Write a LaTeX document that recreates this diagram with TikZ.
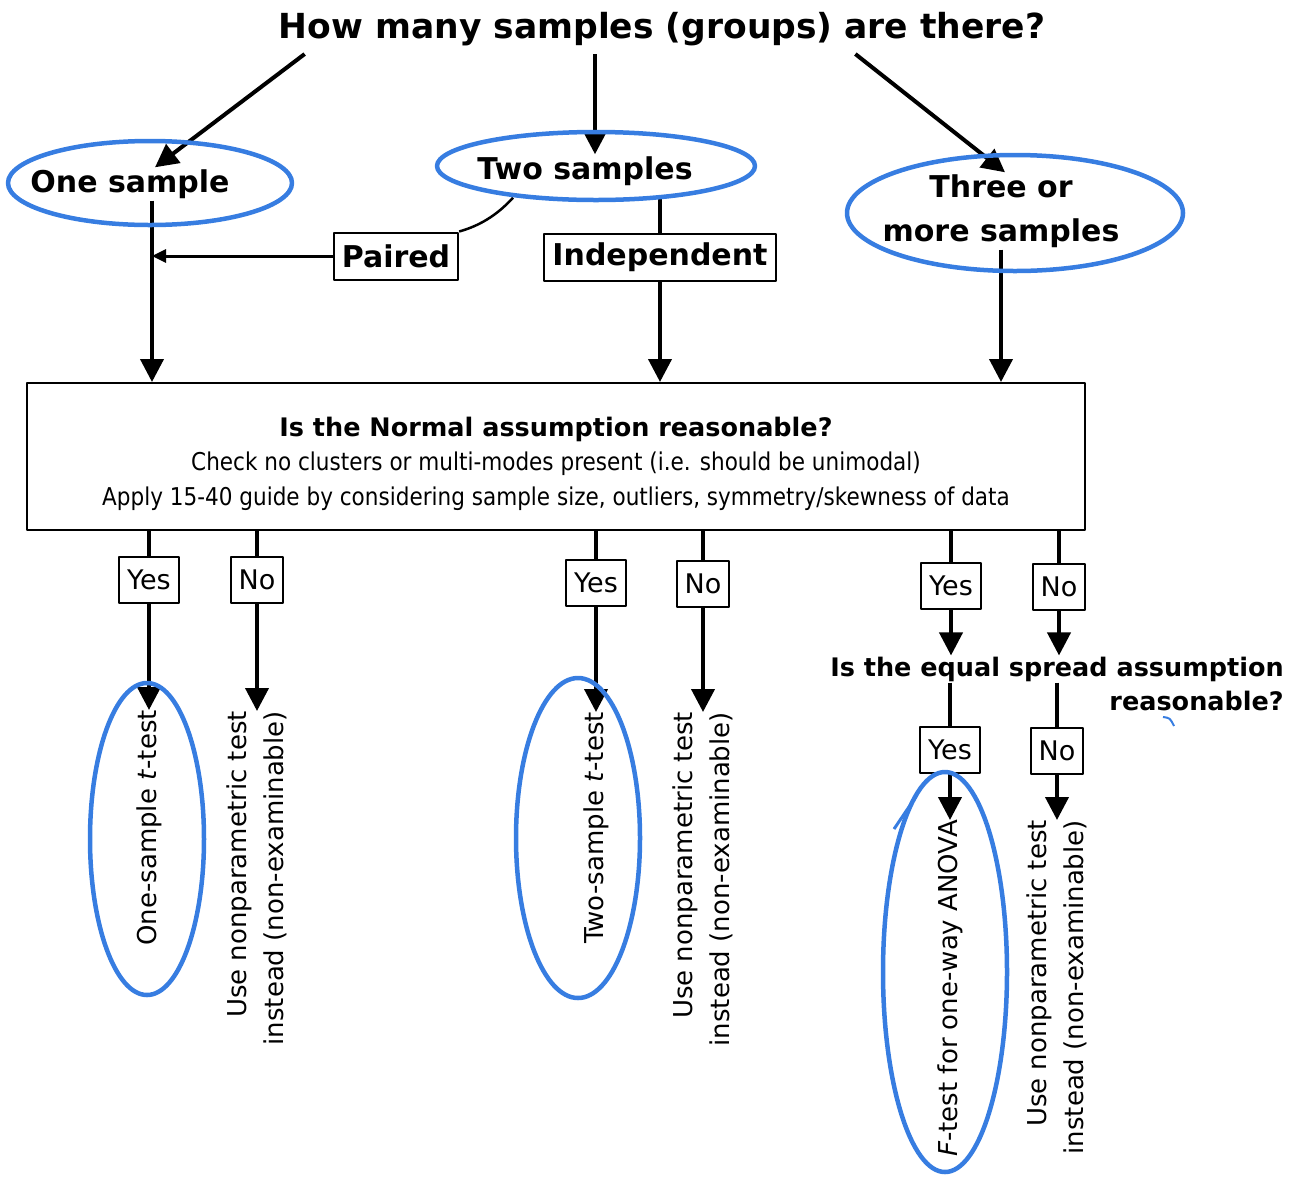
\documentclass[tikz,border=0pt]{standalone}
\usepackage{fontspec}
\setmainfont{DejaVu Sans}
\newfontfamily\narrowfont[FakeStretch=0.88]{DejaVu Sans}
\usetikzlibrary{arrows.meta}
\definecolor{markerblue}{RGB}{55,125,225}

\begin{document}
\begin{tikzpicture}[x=1pt, y=-1pt, line join=round,
    arr/.style={line width=4pt, -{Triangle[length=23pt, width=23pt]}},
    arrsmall/.style={line width=3pt, -{Triangle[length=14pt, width=13pt]}},
    stem/.style={line width=4pt},
    choice/.style={draw, line width=2pt, font=\fontsize{30}{36}\selectfont\bfseries, minimum height=47pt, inner xsep=8pt, inner ysep=0pt},
    answer/.style={draw, line width=2pt, font=\fontsize{27}{30}\selectfont, minimum height=46pt, inner xsep=8pt, inner ysep=0pt},
    group/.style={font=\fontsize{30}{44}\selectfont\bfseries, align=center, inner sep=2pt},
    result/.style={rotate=90, anchor=east, align=right, inner sep=0pt, font=\fontsize{26}{37}\selectfont},
    pen/.style={draw=markerblue, line width=4.5pt}]
    \useasboundingbox (0,0) rectangle (1297,1176);

    % Frage oben
    \node[font=\fontsize{34.5}{40}\selectfont\bfseries, inner sep=2pt] (title) at (662,29) {How many samples (groups) are there?};

    % Gruppen
    \node[group] (one) at (130,184) {One sample};
    \node[group] (two) at (585,171) {Two samples};
    \node[group] (three) at (1001,211) {Three or\\more samples};

    \draw[arr] ([xshift=28pt, yshift=-6pt]title.south west) -- ([xshift=25pt]one.north);
    \draw[arr] ([xshift=-67pt, yshift=-6pt]title.south) -- ([xshift=10pt]two.north);
    \draw[arr] ([xshift=-192pt, yshift=-6pt]title.south east) -- ([xshift=4pt]three.north);

    % gepaart / unabhaengig
    \node[choice] (paired) at (396,256) {Paired};
    \node[choice] (indep) at (660,257) {Independent};

    \coordinate (onestem) at ([xshift=22pt]one.south);
    \coordinate (twostem) at ([xshift=75pt, yshift=-10pt]two.south);
    \coordinate (twolink) at ([xshift=-72pt, yshift=-10pt]two.south);

    \draw[line width=2.5pt] (twolink) .. controls +(-20,22) and +(14,-4) .. (paired.north east);
    \draw[stem] (twostem) -- (indep.north);
    \draw[arrsmall] (paired.west) -- (paired.west -| onestem);

    % Normalverteilung
    \node[draw, line width=2pt, minimum width=1058pt, minimum height=147pt] (box) at (556,456.5) {};
    \node[align=center, inner sep=0pt, font=\narrowfont\fontsize{24.5}{34.5}\selectfont] (boxtext) at ([yshift=-7pt]box.center)
        {{\rmfamily\bfseries\fontsize{25.5}{34.5}\selectfont Is the Normal assumption reasonable?}\\
         Check no clusters or multi-modes present (i.e. should be unimodal)\\
         Apply 15-40 guide by considering sample size, outliers, symmetry/skewness of data};

    \draw[arr] (onestem) -- (onestem |- box.north);
    \draw[arr] (indep.south) -- (indep.south |- box.north);
    \draw[arr] (three.south) -- (three.south |- box.north);

    % Ja / Nein
    \node[answer] (yes1) at (149,580) {Yes};
    \node[answer] (no1) at (257,580) {No};
    \node[answer] (yes2) at (596,583) {Yes};
    \node[answer] (no2) at (703,584) {No};
    \node[answer] (yes3) at (951,586) {Yes};
    \node[answer] (no3) at (1059,587) {No};

    \foreach \n in {yes1,no1,yes2,no2,yes3,no3}
        \draw[stem] (box.south -| \n) -- (\n.north);

    % Tests
    \node[result] (ttest1) at (149,710) {One-sample \textit{t}-test};
    \node[result] (np1) at (257,711) {Use nonparametric test\\instead (non-examinable)};
    \node[result] (ttest2) at (596,712) {Two-sample \textit{t}-test};
    \node[result] (np2) at (703,712) {Use nonparametric test\\instead (non-examinable)};

    \draw[arr] (yes1) -- (ttest1.east);
    \draw[arr] (no1) -- (np1.east);
    \draw[arr] (yes2) -- (ttest2.east);
    \draw[arr] (no2) -- (np2.east);

    % gleiche Streuung
    \node[font=\fontsize{25.5}{38}\selectfont\bfseries, inner sep=1pt] (spreadA) at (1057,669) {Is the equal spread assumption};
    \node[font=\fontsize{25.5}{38}\selectfont\bfseries, inner sep=1pt, anchor=north east] (spreadB) at ([yshift=-7pt]spreadA.south east) {reasonable?};

    \draw[arr] (yes3.south) -- (yes3.south |- spreadA.north);
    \draw[arr] (no3.south) -- (no3.south |- spreadA.north);

    \node[answer] (yes4) at (950,750) {Yes};
    \node[answer] (no4) at (1057,751) {No};

    \draw[stem] (spreadA.south -| yes4) -- (yes4.north);
    \draw[stem] (spreadA.south -| no4) -- (no4.north);

    \node[result] (ftest) at (950,820) {\textit{F}-test for one-way ANOVA};
    \node[result] (np3) at (1057,820) {Use nonparametric test\\instead (non-examinable)};

    \draw[arr] (yes4) -- (ftest.east);
    \draw[arr] (no4) -- (np3.east);

    % blaue Markierungen
    \draw[pen] (150,183) ellipse [x radius=142, y radius=42];
    \draw[pen] (596,166) ellipse [x radius=159, y radius=34];
    \draw[pen] (1015,213) ellipse [x radius=168, y radius=58];
    \draw[pen] (147,839) ellipse [x radius=57, y radius=156];
    \draw[pen] (578,838) ellipse [x radius=62, y radius=160];
    \draw[pen] (945,972) ellipse [x radius=62, y radius=200];
    \draw[pen, line width=3pt] (894,829) -- (917,795);
    \draw[markerblue, line width=2pt] (1163,717) .. controls (1170,718) .. (1174,726);
\end{tikzpicture}
\end{document}
